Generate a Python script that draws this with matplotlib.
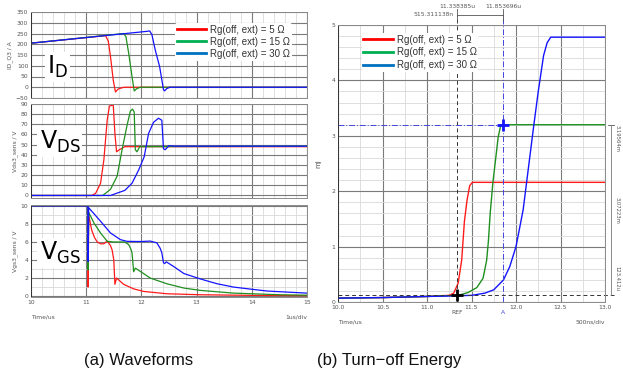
import matplotlib
matplotlib.use("Agg")
import matplotlib.pyplot as plt
from matplotlib.lines import Line2D
from matplotlib.ticker import MultipleLocator
import matplotlib.transforms as mtransforms

W, H = 623, 375

# --- data ---
legend_labels = ["Rg(off, ext) = 5 Ω", "Rg(off, ext) = 15 Ω", "Rg(off, ext) = 30 Ω"]

# drain current [A] vs time [us]
id_t_red = [10.0, 11.35, 11.40, 11.44, 11.49, 11.53, 11.58, 11.68, 15.0]
id_red = [205, 240, 215, 143, 33, -22, -8, 0, 0]
id_t_green = [10.0, 11.68, 11.72, 11.77, 11.83, 11.87, 11.92, 11.98, 15.0]
id_green = [205, 250, 235, 158, 49, -17, -6, 0, 0]
id_t_blue = [10.0, 12.10, 12.15, 12.19, 12.25, 12.33, 12.40, 12.42, 12.46, 12.52, 15.0]
id_blue = [205, 260, 262, 245, 174, 96, -11, -17, -6, 0, 0]

# drain-source voltage [V]
vds_t_red = [10.0, 11.10, 11.17, 11.26, 11.32, 11.38, 11.42, 11.49, 11.52, 11.55, 11.60, 11.70, 15.0]
vds_red = [0, 0, 2, 12, 35, 74, 88, 89, 61, 43, 45, 48, 48]
vds_t_green = [10.0, 11.30, 11.44, 11.56, 11.65, 11.74, 11.80, 11.84, 11.87, 11.89, 11.92, 11.97, 15.0]
vds_green = [0, 0, 6, 19, 45, 69, 83, 85, 82, 45, 43, 48, 48.5]
vds_t_blue = [10.0, 11.44, 11.70, 11.83, 11.95, 12.05, 12.13, 12.22, 12.31, 12.37, 12.40, 12.43, 12.50, 12.60, 15.0]
vds_blue = [0, 0, 5, 12, 25, 38, 61, 72, 76, 74, 46, 45, 49, 48.5, 48.5]

# gate-source voltage [V]
vgs_t_red = [10.0, 11.03, 11.035, 11.045, 11.10, 11.15, 11.20, 11.26, 11.32, 11.38, 11.44, 11.47,
             11.50, 11.52, 11.55, 11.68, 11.86, 12.04, 12.46, 13.07, 14.0, 15.0]
vgs_red = [10, 10, 1.0, 9.0, 7.3, 6.5, 6.0, 5.8, 5.8, 6.1, 5.6, 5.1,
           4.0, 1.3, 2.0, 1.3, 0.8, 0.52, 0.26, 0.15, 0.08, 0.05]
vgs_t_green = [10.0, 11.03, 11.035, 11.045, 11.14, 11.26, 11.38, 11.50, 11.70, 11.77, 11.81, 11.83,
               11.86, 11.89, 11.98, 12.16, 12.46, 12.77, 13.07, 13.67, 14.5, 15.0]
vgs_green = [10, 10, 2.9, 9.3, 8.1, 7.0, 6.07, 6.0, 6.0, 5.7, 5.2, 4.8,
             2.7, 3.1, 2.74, 2.0, 1.37, 0.89, 0.63, 0.33, 0.15, 0.1]
vgs_t_blue = [10.0, 11.03, 11.035, 11.045, 11.26, 11.44, 11.62, 11.74, 12.0, 12.16, 12.28, 12.34,
              12.37, 12.40, 12.42, 12.45, 12.58, 12.77, 13.07, 13.37, 13.67, 13.97, 14.28, 15.0]
vgs_blue = [10, 10, 3.85, 9.8, 8.3, 7.0, 6.26, 6.07, 6.05, 6.1, 5.9, 5.3,
            4.8, 3.7, 3.6, 3.8, 3.3, 2.5, 1.9, 1.37, 1.0, 0.78, 0.56, 0.33]

# turn-off energy [mJ]
e_t_red = [10.0, 10.5, 11.0, 11.25, 11.30, 11.35, 11.39, 11.42, 11.45, 11.48, 11.51, 13.0]
e_red = [0.07, 0.08, 0.10, 0.12, 0.16, 0.34, 0.76, 1.45, 1.84, 2.10, 2.16, 2.16]
e_t_green = [10.0, 10.5, 11.0, 11.35, 11.46, 11.56, 11.63, 11.67, 11.69, 11.71, 11.74, 11.80, 11.83, 13.0]
e_green = [0.07, 0.08, 0.10, 0.12, 0.17, 0.26, 0.43, 0.75, 1.1, 1.6, 2.15, 2.98, 3.2, 3.2]
e_t_blue = [10.0, 10.5, 11.0, 11.3, 11.5, 11.65, 11.75, 11.86, 11.93, 12.0, 12.08, 12.20, 12.25,
            12.31, 12.35, 12.39, 13.0]
e_blue = [0.07, 0.08, 0.10, 0.11, 0.12, 0.16, 0.22, 0.40, 0.64, 1.0, 1.66, 3.19, 3.8,
          4.45, 4.68, 4.78, 4.78]

# cursors
ref_t, ref_e = 11.338385, 0.12
a_t, a_e = 11.853696, 3.2
cursor_labels = ["11.338385u", "11.853696u", "515.311138n"]
delta_labels = ["3.19564m", "3.07223m", "123.412u"]

RED, GREEN, BLUE = "#ff1a1a", "#1f8f1f", "#1414ff"
LEG_COLORS = ["#ff0000", "#00b050", "#0070c0"]
GRAY = "#555555"
SMALL = 4.3


def px_axes(fig, x0, y0, x1, y1):
    return fig.add_axes([x0 / W, 1 - y1 / H, (x1 - x0) / W, (y1 - y0) / H])


def style_axes(ax, xmajor, xminor, ymajor, yminor):
    ax.xaxis.set_major_locator(MultipleLocator(xmajor))
    ax.xaxis.set_minor_locator(MultipleLocator(xminor))
    ax.yaxis.set_major_locator(MultipleLocator(ymajor))
    ax.yaxis.set_minor_locator(MultipleLocator(yminor))
    ax.grid(which="major", color="#7a7a7a", lw=0.8)
    ax.grid(which="minor", color="#d9d9d9", lw=0.6)
    ax.set_axisbelow(True)
    ax.tick_params(which="both", length=0, labelsize=SMALL, colors=GRAY, pad=2)
    for s in ax.spines.values():
        s.set_color("#8a8a8a")
        s.set_linewidth(0.7)
    ax.spines["left"].set_color("#333333")


def add_legend(ax, anchor, spacing):
    handles = [Line2D([], [], color=c, lw=2) for c in LEG_COLORS]
    leg = ax.legend(handles, legend_labels, loc="upper left", bbox_to_anchor=anchor,
                    frameon=True, framealpha=1, edgecolor="none", handlelength=3.0,
                    handletextpad=0.4, labelspacing=spacing, borderpad=0.2,
                    prop=dict(family="Liberation Sans", size=7))
    for t in leg.get_texts():
        t.set_color("#333333")


fig = plt.figure(figsize=(W / 100, H / 100), dpi=100)

# --- (a) waveforms ---
ax_id = px_axes(fig, 31, 12, 307, 98)
ax_vds = px_axes(fig, 31, 104, 307, 198)
ax_vgs = px_axes(fig, 31, 205, 307, 297)

ax_id.plot(id_t_red, id_red, color=RED, lw=0.9)
ax_id.plot(id_t_green, id_green, color=GREEN, lw=0.9)
ax_id.plot(id_t_blue, id_blue, color=BLUE, lw=0.9)
ax_id.set_ylim(-50, 350)
style_axes(ax_id, 1, 0.2, 50, 50)
ax_id.set_ylabel("ID_Q3 / A", fontsize=SMALL, color=GRAY, labelpad=2)

ax_vds.plot(vds_t_red, vds_red, color=RED, lw=0.9)
ax_vds.plot(vds_t_green, vds_green, color=GREEN, lw=0.9)
ax_vds.plot(vds_t_blue, vds_blue, color=BLUE, lw=0.9)
ax_vds.set_ylim(-2.5, 90)
style_axes(ax_vds, 1, 0.2, 10, 10)
ax_vds.set_ylabel("Vds3_sens / V", fontsize=SMALL, color=GRAY, labelpad=2)

ax_vgs.plot(vgs_t_red, vgs_red, color=RED, lw=0.9)
ax_vgs.plot(vgs_t_green, vgs_green, color=GREEN, lw=0.9)
ax_vgs.plot(vgs_t_blue, vgs_blue, color=BLUE, lw=0.9)
ax_vgs.set_ylim(-0.1, 10.1)
style_axes(ax_vgs, 1, 0.2, 2, 1)
ax_vgs.set_ylabel("Vgs3_sens / V", fontsize=SMALL, color=GRAY, labelpad=2)

for ax in (ax_id, ax_vds, ax_vgs):
    ax.set_xlim(10, 15)
for ax in (ax_id, ax_vds):
    ax.tick_params(labelbottom=False)
ax_vgs.set_xticks([10, 11, 12, 13, 14, 15])
ax_vgs.set_xticklabels(["10", "11", "12", "13", "14", "15"])

big = dict(fontsize=17, color="black", ha="center", va="center",
           bbox=dict(facecolor="white", edgecolor="none", pad=1.5))
ax_id.text(0.095, 0.36, r"$\mathregular{I_D}$", transform=ax_id.transAxes, **big)
ax_vds.text(0.105, 0.60, r"$\mathregular{V_{DS}}$", transform=ax_vds.transAxes, **big)
ax_vgs.text(0.105, 0.48, r"$\mathregular{V_{GS}}$", transform=ax_vgs.transAxes, **big)

add_legend(ax_id, (0.505, 0.93), 0.2)

fig.text(31 / W, 1 - 317 / H, "Time/us", fontsize=SMALL, color=GRAY, va="center")
fig.text(307 / W, 1 - 317 / H, "1us/div", fontsize=SMALL, color=GRAY, va="center", ha="right")

# --- (b) turn-off energy ---
ax_e = px_axes(fig, 338, 25, 605, 302)
ax_e.plot(e_t_red, e_red, color=RED, lw=1.0)
ax_e.plot(e_t_green, e_green, color=GREEN, lw=1.0)
ax_e.plot(e_t_blue, e_blue, color=BLUE, lw=1.0)
ax_e.set_xlim(10, 13)
ax_e.set_ylim(0, 5)
style_axes(ax_e, 0.5, 0.25, 1, 0.2)
ax_e.set_xticks([10.0, 10.5, 11.0, 11.5, 12.0, 12.5, 13.0])
ax_e.set_xticklabels(["10.0", "10.5", "11.0", "11.5", "12.0", "12.5", "13.0"])
ax_e.set_ylabel("mJ", fontsize=5, color=GRAY, labelpad=7)

# vertical cursors reaching above the plot
trans = mtransforms.blended_transform_factory(ax_e.transData, ax_e.transAxes)
top = (302 - 15) / 277
ax_e.plot([ref_t, ref_t], [0, top], transform=trans, color="#333333", lw=0.7,
          ls=(0, (4, 3)), clip_on=False)
ax_e.plot([a_t, a_t], [0, top], transform=trans, color="#4444dd", lw=0.7,
          ls=(0, (6, 2, 1, 2)), clip_on=False)
ax_e.plot([ref_t, a_t], [top, top], transform=trans, color=GRAY, lw=0.6, clip_on=False)
for xv in (ref_t, a_t):
    ax_e.plot([xv, xv], [top - 0.02, top + 0.02], transform=trans, color=GRAY,
              lw=0.6, clip_on=False)

# horizontal cursors and the delta bracket on the right
trans_y = mtransforms.blended_transform_factory(ax_e.transAxes, ax_e.transData)
right_x = 1 + (614 - 605) / 267
ax_e.plot([0, right_x], [ref_e, ref_e], transform=trans_y, color="#333333", lw=0.7,
          ls=(0, (4, 3)), clip_on=False)
ax_e.plot([10, a_t], [a_e, a_e], color="#4444dd", lw=0.7, ls=(0, (6, 2, 1, 2)))
ax_e.plot([1 + 3 / 267, right_x], [a_e, a_e], transform=trans_y, color=GRAY,
          lw=0.6, clip_on=False)
bx = 1 + (611 - 605) / 267
ax_e.plot([bx, bx], [ref_e, a_e], transform=trans_y, color="#777777", lw=0.6, clip_on=False)
tx = 1 + (617 - 605) / 267
for yv, lab in zip([a_e - 0.25, (ref_e + a_e) / 2, ref_e + 0.3], delta_labels):
    ax_e.text(tx, yv, lab, transform=trans_y, rotation=-90, fontsize=3.8,
              color=GRAY, ha="center", va="center")

ax_e.plot([ref_t], [ref_e], marker="+", ms=8, mew=2, color="black")
ax_e.plot([a_t], [a_e], marker="+", ms=8, mew=2, color="#1414ff")

ax_e.text(ref_t, (302 - 7) / 277, cursor_labels[0], transform=trans, fontsize=SMALL,
          color=GRAY, ha="center", va="center")
ax_e.text(a_t, (302 - 7) / 277, cursor_labels[1], transform=trans, fontsize=SMALL,
          color=GRAY, ha="center", va="center")
ax_e.text(ref_t - 0.04, top, cursor_labels[2], transform=trans, fontsize=SMALL,
          color=GRAY, ha="right", va="center")
ax_e.text(ref_t, -(312 - 302) / 277, "REF", transform=trans, fontsize=SMALL,
          color=GRAY, ha="center", va="center")
ax_e.text(a_t, -(312 - 302) / 277, "A", transform=trans, fontsize=SMALL,
          color="#4444dd", ha="center", va="center")

add_legend(ax_e, (0.07, 0.99), 0.3)

fig.text(338 / W, 1 - 322 / H, "Time/us", fontsize=SMALL, color=GRAY, va="center")
fig.text(605 / W, 1 - 322 / H, "500ns/div", fontsize=SMALL, color=GRAY, va="center", ha="right")

# captions
fig.text(139 / W, 1 - 360 / H, "(a) Waveforms", fontsize=12, ha="center", va="center",
         family="Liberation Sans", color="#111111")
fig.text(389 / W, 1 - 360 / H, "(b) Turn\u2212off Energy", fontsize=12, ha="center", va="center",
         family="Liberation Sans", color="#111111")

fig.savefig("out.png", dpi=100)
